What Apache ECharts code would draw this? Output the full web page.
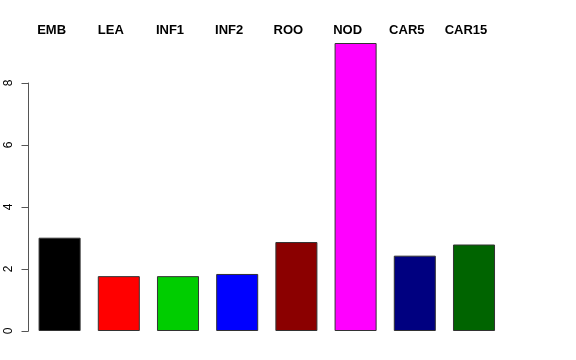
<!DOCTYPE html>
<html>
<head>
<meta charset="utf-8">
<script src="https://cdn.jsdelivr.net/npm/echarts@6/dist/echarts.min.js"></script>
<style>html,body{margin:0;padding:0;background:#fff;}#c{width:576px;height:360px;}</style>
</head>
<body>
<div id="c"></div>
<script>
var categories = ['EMB', 'LEA', 'INF1', 'INF2', 'ROO', 'NOD', 'CAR5', 'CAR15'];
var values = [3.01, 1.77, 1.77, 1.84, 2.87, 9.29, 2.43, 2.79];
var colors = ['#000000', '#FF0000', '#00CD00', '#0000FF', '#8B0000', '#FF00FF', '#000080', '#006400'];
var yTicks = [0, 2, 4, 6, 8];

var chart = echarts.init(document.getElementById('c'), null, {renderer: 'canvas'});
chart.setOption({
  animation: false,
  backgroundColor: '#ffffff',
  grid: {left: 30, top: 83, width: 473.6, bottom: 29, containLabel: false},
  xAxis: {
    type: 'category',
    position: 'top',
    data: categories,
    axisLine: {show: false},
    axisTick: {show: false},
    axisLabel: {
      margin: 46,
      color: '#000',
      fontFamily: 'Liberation Sans, Arial, sans-serif',
      fontWeight: 'bold',
      fontSize: 13,
      padding: [0, 16, 0, 0]
    }
  },
  yAxis: {
    type: 'value',
    min: yTicks[0],
    max: yTicks[yTicks.length - 1],
    interval: 2,
    offset: 1.5,
    splitLine: {show: false},
    axisLine: {show: true, lineStyle: {color: '#555', width: 1}},
    axisTick: {show: true, length: 7, lineStyle: {color: '#555', width: 1}},
    axisLabel: {
      rotate: 90,
      margin: 14,
      color: '#000',
      fontFamily: 'Liberation Sans, Arial, sans-serif',
      fontSize: 12
    }
  },
  series: [{
    type: 'bar',
    clip: false,
    barWidth: '71%',
    data: values.map(function (v, i) {
      return {value: v, itemStyle: {color: colors[i]}};
    }),
    itemStyle: {borderColor: '#333', borderWidth: 1}
  }]
});
</script>
</body>
</html>
